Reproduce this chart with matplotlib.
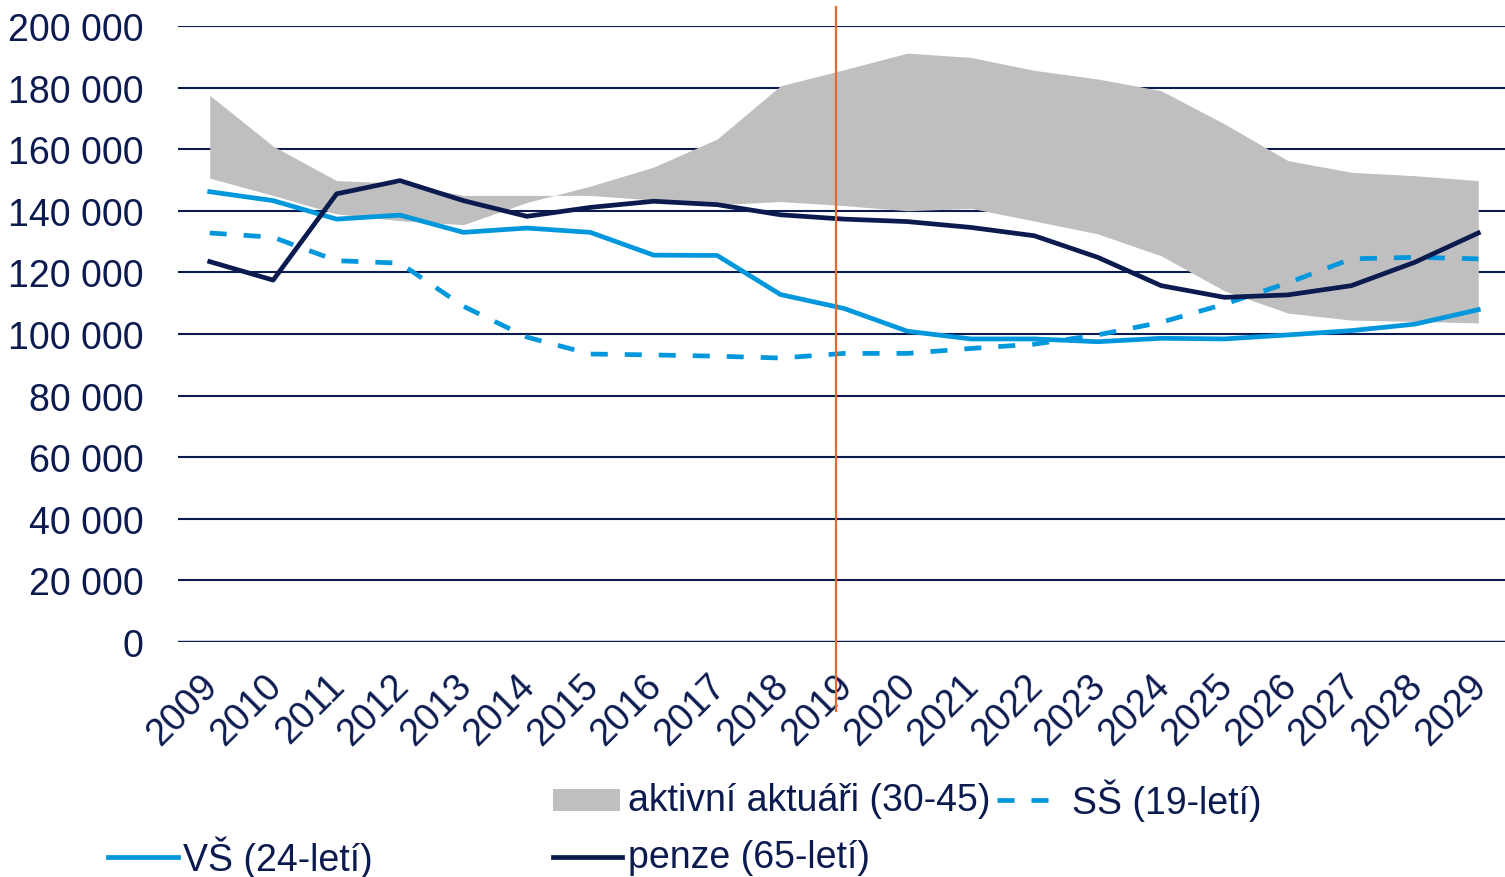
import matplotlib
matplotlib.use("Agg")
import matplotlib.pyplot as plt
from matplotlib.lines import Line2D
from matplotlib.patches import Rectangle
from matplotlib.ticker import FuncFormatter
import matplotlib.transforms as mtransforms

plt.rcParams['font.family'] = ['Liberation Sans', 'DejaVu Sans']

years = list(range(2009, 2030))
band_a = [177500, 161000, 149800, 149000, 145000, 145000, 145000, 143500, 142000, 143000,
          141700, 140000, 140800, 136700, 132500, 125400, 114000, 106800, 104500, 104100, 103600]
band_b = [150600, 145000, 139000, 136800, 135500, 142700, 148000, 154200, 163300, 180600,
          185800, 191200, 189800, 185600, 182800, 179000, 168200, 156300, 152500, 151400, 149800]
vs = [146200, 143300, 137300, 138600, 133000, 134400, 133000, 125600, 125500, 112800,
      108300, 100900, 98400, 98400, 97500, 98600, 98400, 99700, 101100, 103200, 107900]
ss = [132800, 131400, 123800, 123000, 109000, 99000, 93500, 93200, 92800, 92200,
      93700, 93700, 95300, 96700, 99700, 103800, 109700, 116600, 124400, 124900, 124400]
penze = [123500, 117500, 145500, 149800, 143300, 138200, 141100, 143100, 142000, 138700,
         137300, 136500, 134600, 131900, 124900, 115700, 111900, 112700, 115700, 123300, 132800]
marker_year = 2018.88

lbl_band = "aktivní aktuáři (30-45)"
lbl_ss = "SŠ (19-letí)"
lbl_vs = "VŠ (24-letí)"
lbl_penze = "penze (65-letí)"

NAVY = "#0B1A4F"
LBLUE = "#0097DC"
GRAY = "#BFBFBF"
ORANGE = "#E8692D"
FS = 27
LW = 3.4

W, H = 1505, 878
fig = plt.figure(figsize=(W / 100, H / 100), dpi=100)
ax = fig.add_axes([178 / W, 1 - 643 / H, 1332 / W, 616 / H])

ax.fill_between(years, band_a, band_b, color=GRAY, linewidth=0, zorder=2)
ax.plot(years, vs, color=LBLUE, lw=LW, zorder=4, solid_joinstyle='round')
ax.plot(years, ss, color=LBLUE, lw=LW, zorder=4, dashes=(3.6, 3.6))
ax.plot(years, penze, color=NAVY, lw=LW, zorder=5, solid_joinstyle='round')

ax.set_xlim(2008.5, 2029.5)
ax.set_ylim(0, 200000)
ax.set_yticks(range(0, 200001, 20000))
ax.yaxis.set_major_formatter(FuncFormatter(lambda v, p: f"{int(v):,}".replace(",", " ")))
ax.set_xticks(years)
ax.set_xticklabels([str(y) for y in years], rotation=45, ha='right', va='top',
                   rotation_mode='anchor')
for s in ax.spines.values():
    s.set_visible(False)
ax.tick_params(axis='both', length=0, labelsize=FS, labelcolor=NAVY)
ax.tick_params(axis='y', pad=25)
ax.tick_params(axis='x', pad=20)
for lab in ax.get_xticklabels():
    lab.set_transform(lab.get_transform() + mtransforms.ScaledTranslation(-0.10, 0.03, fig.dpi_scale_trans))
ax.yaxis.grid(True, color=NAVY, lw=1.5, zorder=1)
ax.set_axisbelow(True)
ax.axhline(0, color=NAVY, lw=2.4, zorder=1)

trans = mtransforms.blended_transform_factory(ax.transData, ax.transAxes)
ax.plot([marker_year, marker_year], [-0.112, 1.031], color=ORANGE, lw=1.6,
        transform=trans, clip_on=False, zorder=6)

# legend (manual, Excel-like layout)
def fy(py):
    return 1 - py / H

def fx(px):
    return px / W

fig.add_artist(Rectangle((fx(553), fy(812)), fx(620) - fx(553), fy(790) - fy(812),
                         facecolor=GRAY, edgecolor='none'))
fig.text(fx(628), fy(801), lbl_band, fontsize=FS, color=NAVY, va='center', ha='left')
fig.add_artist(Line2D([fx(997), fx(1062)], [fy(801), fy(801)], color=LBLUE, lw=LW, dashes=(3.6, 3.6)))
fig.text(fx(1072), fy(801), lbl_ss, fontsize=FS, color=NAVY, va='center', ha='left')
fig.add_artist(Line2D([fx(108), fx(178)], [fy(858), fy(858)], color=LBLUE, lw=LW))
fig.text(fx(183), fy(858), lbl_vs, fontsize=FS, color=NAVY, va='center', ha='left')
fig.add_artist(Line2D([fx(553), fx(622)], [fy(858), fy(858)], color=NAVY, lw=LW))
fig.text(fx(628), fy(858), lbl_penze, fontsize=FS, color=NAVY, va='center', ha='left')

fig.savefig("out.png", dpi=100)
